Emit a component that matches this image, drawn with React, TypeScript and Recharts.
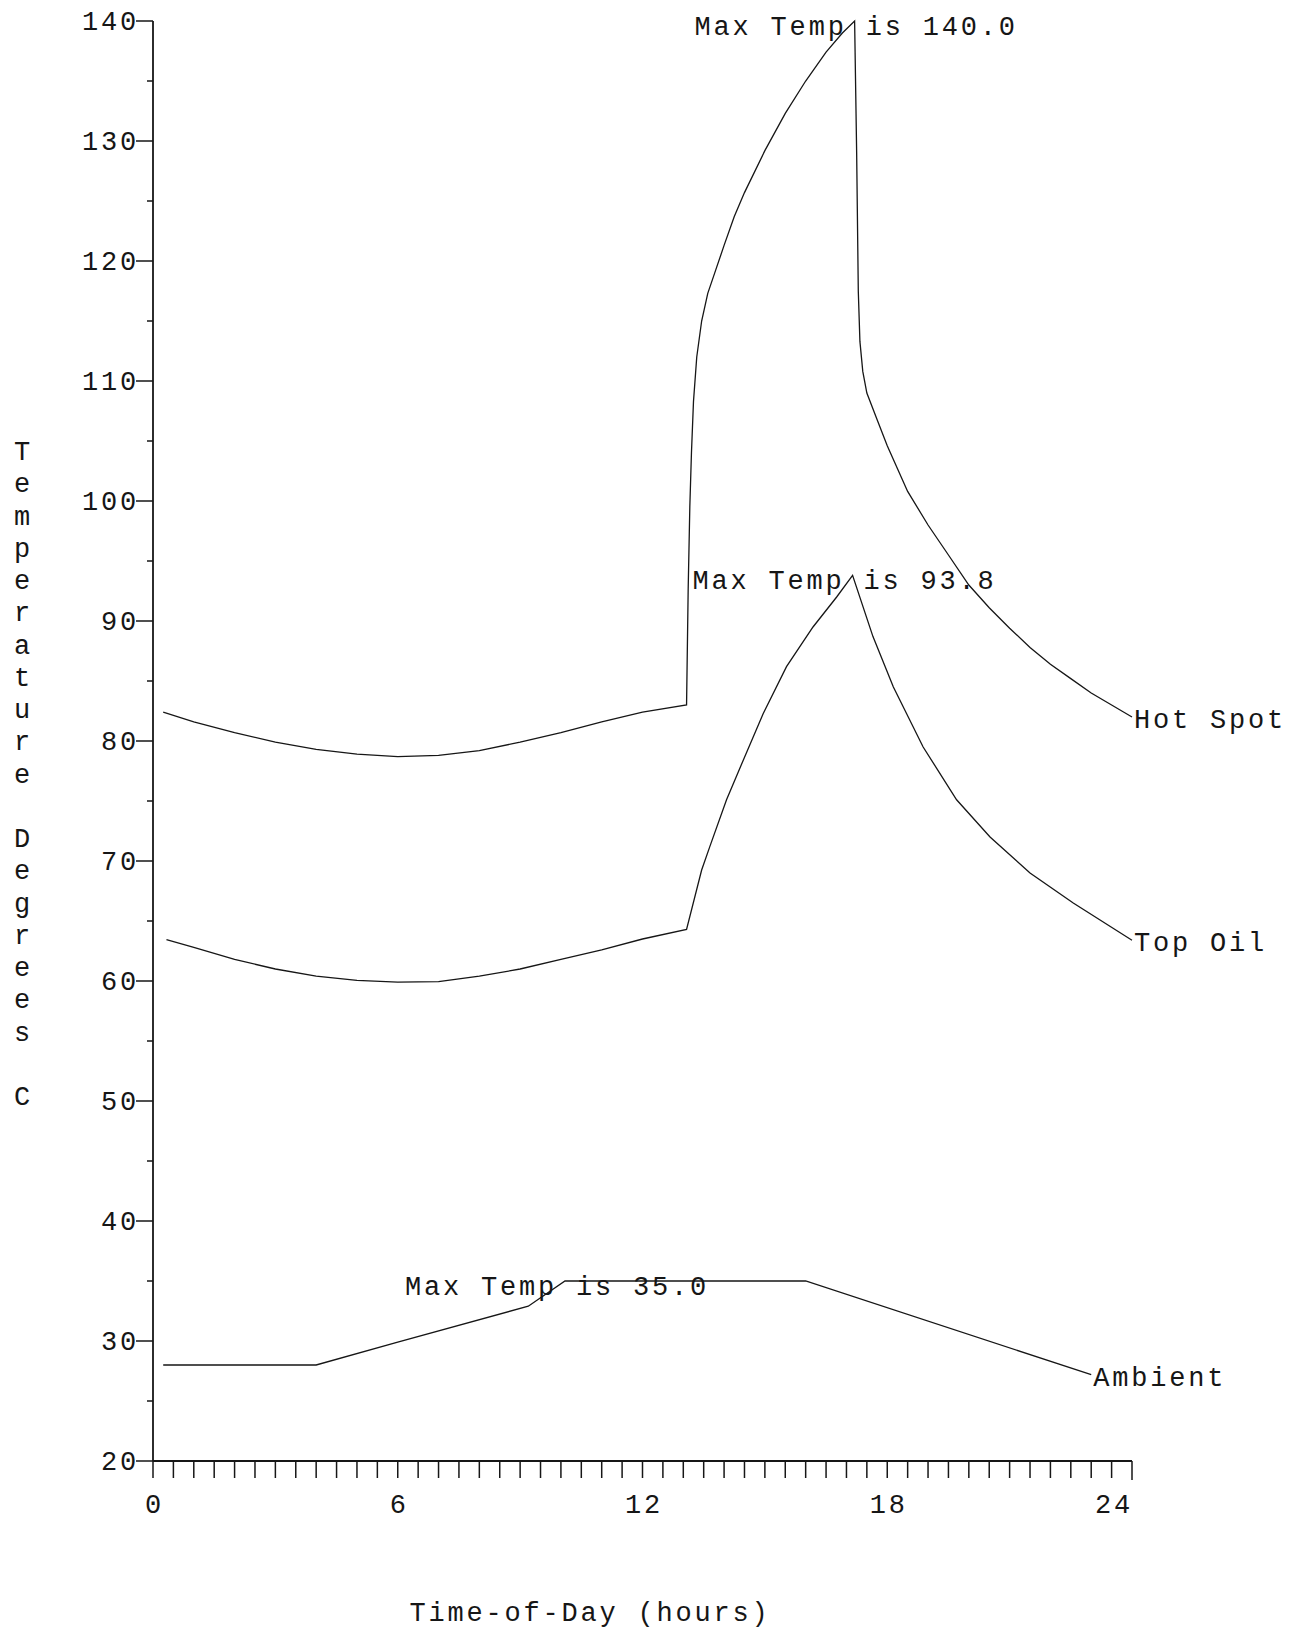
import { Label, Line, LineChart, ReferenceDot, XAxis, YAxis } from 'recharts';

const CHART_W = 1304;
const CHART_H = 1632;
const INK = '#161616';
const FONT = "'Liberation Mono', 'DejaVu Sans Mono', monospace";
const FONT_SIZE = 27;
const LETTER_GAP = 2.8;

// Hot spot winding temperature over the day
const hotSpotHours = [
  0.25, 1, 2, 3, 4, 5, 6, 7, 8, 9, 10, 11, 12, 13.08, 13.12, 13.16, 13.2, 13.25, 13.33, 13.45, 13.6,
  13.8, 14.0, 14.25, 14.5, 15.0, 15.5, 16.0, 16.5, 16.9, 17.2, 17.25, 17.29, 17.33, 17.4, 17.5, 17.75,
  18.0, 18.5, 19.0, 19.5, 20.0, 20.5, 21.0, 21.5, 22.0, 22.5, 23.0, 23.5, 24.0,
];
const hotSpotTemps = [
  82.4, 81.6, 80.7, 79.9, 79.3, 78.9, 78.7, 78.8, 79.2, 79.9, 80.7, 81.6, 82.4, 83.0, 92.7, 99.5,
  104.0, 108.3, 112.0, 115.0, 117.3, 119.3, 121.3, 123.7, 125.7, 129.2, 132.3, 135.0, 137.4, 139.0,
  140.0, 129.0, 117.5, 113.3, 110.8, 109.0, 106.8, 104.6, 100.8, 98.0, 95.5, 93.0, 91.1, 89.4, 87.8,
  86.4, 85.2, 84.0, 83.0, 82.0,
];

// Top oil temperature
const topOilHours = [
  0.33, 1, 2, 3, 4, 5, 6, 7, 8, 9, 10, 11, 12, 13.08, 13.45, 13.65, 14.06, 14.47, 14.96, 15.53, 16.18,
  16.76, 17.15, 17.65, 18.15, 18.88, 19.7, 20.52, 21.5, 22.56, 24.0,
];
const topOilTemps = [
  63.45, 62.8, 61.8, 61.0, 60.4, 60.05, 59.9, 59.95, 60.4, 61.0, 61.8, 62.6, 63.5, 64.3, 69.25, 71.2,
  75.1, 78.4, 82.3, 86.2, 89.5, 92.0, 93.8, 88.7, 84.5, 79.5, 75.1, 72.0, 69.0, 66.5, 63.4,
];

// Ambient air temperature
const ambientHours = [0.25, 4, 6, 9.2, 10.1, 16, 23];
const ambientTemps = [28.0, 28.0, 29.9, 32.9, 35.0, 35.0, 27.2];

const xTickHours = Array.from({ length: 49 }, (_, i) => i * 0.5);
const xLabelHours = [0, 6, 12, 18, 24];
const yTickTemps = Array.from({ length: 25 }, (_, i) => 20 + i * 5);
const yTitle = 'Temperature Degrees C';
const xTitle = 'Time-of-Day (hours)';

const series = [
  { name: 'Hot Spot', hours: hotSpotHours, temps: hotSpotTemps },
  { name: 'Top Oil', hours: topOilHours, temps: topOilTemps },
  { name: 'Ambient', hours: ambientHours, temps: ambientTemps },
];

const toPoints = (hours: number[], temps: number[]) => hours.map((t, i) => ({ t, temp: temps[i] }));

function peakOf(hours: number[], temps: number[]) {
  let k = 0;
  temps.forEach((v, i) => {
    if (v > temps[k]) k = i;
  });
  return { t: hours[k], temp: temps[k] };
}

const textStyle = {
  fontFamily: FONT,
  fontSize: FONT_SIZE,
  letterSpacing: LETTER_GAP,
  fill: INK,
};

function XTick(props: any) {
  const { x, y, payload } = props;
  const v = payload.value as number;
  const labelled = xLabelHours.includes(v);
  const last = v === 24;
  return (
    <g>
      <line x1={x} y1={y} x2={x} y2={y + (last ? 19 : 17)} stroke={INK} strokeWidth={1.5} />
      {labelled && (
        <text
          x={last ? x + 1 : x + LETTER_GAP / 2}
          y={y + 52}
          textAnchor={last ? 'end' : 'middle'}
          style={textStyle}
        >
          {v}
        </text>
      )}
    </g>
  );
}

function YTick(props: any) {
  const { x, y, payload } = props;
  const v = payload.value as number;
  const major = v % 10 === 0;
  return (
    <g>
      <line x1={x - (major ? 17 : 6)} y1={y} x2={x} y2={y} stroke={INK} strokeWidth={1.5} />
      {major && (
        <text x={x - 14} y={y + 9} textAnchor="end" style={textStyle}>
          {v}
        </text>
      )}
    </g>
  );
}

// stacked upright letters down the left edge
const renderYTitle = () => (
  <g>
    {yTitle.split('').map((ch, i) =>
      ch === ' ' ? null : (
        <text
          key={i}
          x={22}
          y={460 + i * 32.25}
          textAnchor="middle"
          style={{ ...textStyle, letterSpacing: 0 }}
        >
          {ch}
        </text>
      ),
    )}
  </g>
);

const renderXTitle = () => (
  <text x={590} y={1621} textAnchor="middle" style={textStyle}>
    {xTitle}
  </text>
);

export default function App() {
  return (
    <div style={{ width: CHART_W, height: CHART_H, background: '#fff' }}>
      <style>{'body{margin:0;background:#fff}'}</style>
      <LineChart
        width={CHART_W}
        height={CHART_H}
        margin={{ top: 21, right: 172, bottom: 71, left: 0 }}
      >
        <XAxis
          type="number"
          dataKey="t"
          domain={[0, 24]}
          ticks={xTickHours}
          interval={0}
          height={100}
          tickSize={0}
          tickMargin={0}
          tickLine={false}
          axisLine={{ stroke: INK, strokeWidth: 1.8 }}
          tick={(p: any) => <XTick {...p} />}
        >
          <Label content={renderXTitle} />
        </XAxis>
        <YAxis
          type="number"
          dataKey="temp"
          domain={[20, 140]}
          ticks={yTickTemps}
          interval={0}
          width={153}
          tickSize={0}
          tickMargin={0}
          tickLine={false}
          axisLine={{ stroke: INK, strokeWidth: 1.8 }}
          tick={(p: any) => <YTick {...p} />}
        >
          <Label content={renderYTitle} />
        </YAxis>
        {series.map((s) => (
          <Line
            key={s.name}
            data={toPoints(s.hours, s.temps)}
            dataKey="temp"
            type="linear"
            stroke={INK}
            strokeWidth={1.3}
            dot={false}
            activeDot={false}
            isAnimationActive={false}
          />
        ))}
        {series.map((s) => {
          const pk = peakOf(s.hours, s.temps);
          return (
            <ReferenceDot
              key={`max-${s.name}`}
              x={pk.t}
              y={pk.temp}
              r={0}
              fill="none"
              stroke="none"
              label={(p: any) => (
                <text x={p.viewBox.x - 160} y={p.viewBox.y + 14} style={textStyle}>
                  {`Max Temp is ${pk.temp.toFixed(1)}`}
                </text>
              )}
            />
          );
        })}
        {series.map((s) => {
          const n = s.hours.length - 1;
          return (
            <ReferenceDot
              key={`end-${s.name}`}
              x={s.hours[n]}
              y={s.temps[n]}
              r={0}
              fill="none"
              stroke="none"
              label={(p: any) => (
                <text x={p.viewBox.x + 2} y={p.viewBox.y + 11} style={textStyle}>
                  {s.name}
                </text>
              )}
            />
          );
        })}
      </LineChart>
    </div>
  );
}
